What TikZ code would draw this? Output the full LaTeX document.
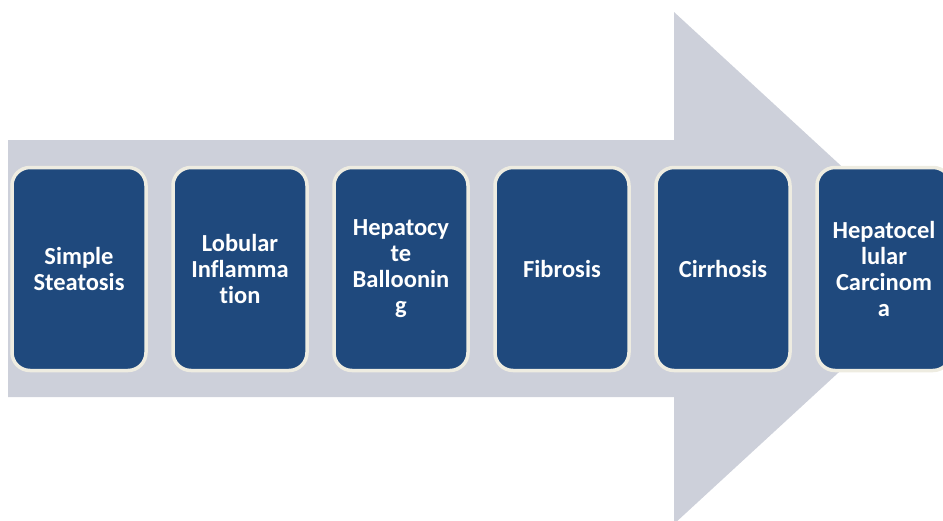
\documentclass[tikz,border=0pt]{standalone}
\usepackage{fontspec}
\setsansfont{Carlito}[Ligatures=NoCommon]
\definecolor{arrowgray}{HTML}{CDD0DA}
\definecolor{boxblue}{HTML}{1F497D}
\definecolor{boxedge}{HTML}{EEECE1}
\begin{document}
\begin{tikzpicture}[x=1pt,y=-1pt,
  stage/.style={draw=boxedge, line width=3.5pt, fill=boxblue, rounded corners=18pt,
    minimum width=134pt, minimum height=203pt, inner sep=0pt,
    text=white, align=center, text width=132pt,
    font=\sffamily\bfseries\fontsize{24.5}{26}\selectfont}]
\useasboundingbox (0,0) rectangle (943,520);
\clip (0,0) rectangle (943,520);
\fill[arrowgray] (8,140) -- (674,140) -- (674,12) -- (952,268) -- (674,524) -- (674,397) -- (8,397) -- cycle;
\node[stage] (b1) at (79,269) {Simple\\Steatosis};
\node[stage] (b2) at (240,269) {Lobular\\Inflamma\\tion};
\node[stage] (b3) at (401,269) {Hepatocy\\te\\Balloonin\\g};
\node[stage] (b4) at (562,269) {Fibrosis};
\node[stage] (b5) at (723,269) {Cirrhosis};
\node[stage] (b6) at (884,269) {Hepatocel\\lular\\Carcinom\\a};
\end{tikzpicture}
\end{document}
